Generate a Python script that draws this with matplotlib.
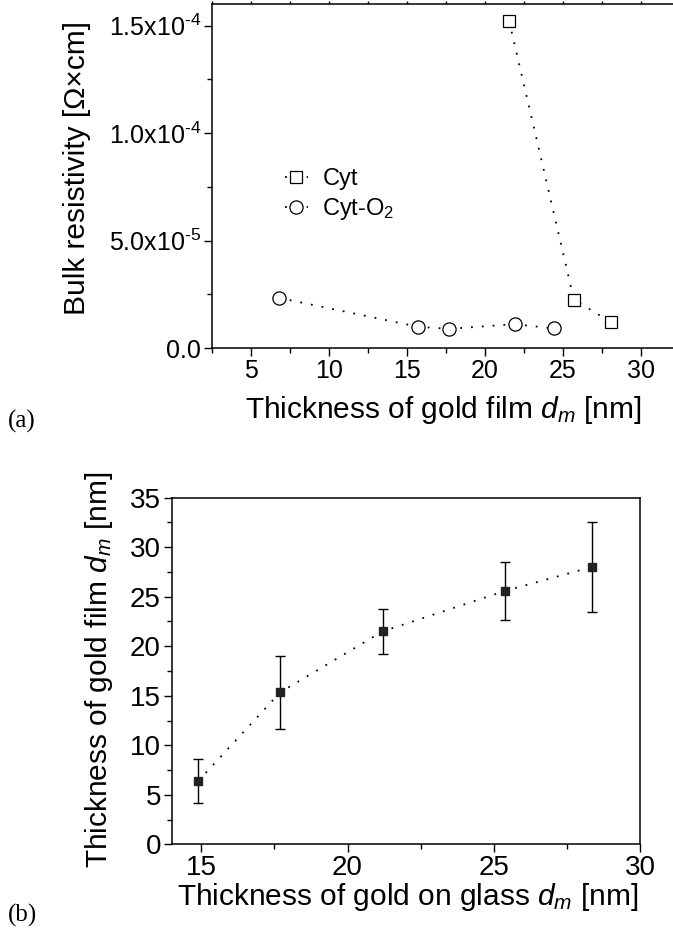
import numpy as np
import matplotlib
matplotlib.use("Agg")
import matplotlib.pyplot as plt
from matplotlib.ticker import MultipleLocator, FuncFormatter

FAM = ['Liberation Sans', 'DejaVu Sans']
plt.rcParams['font.family'] = FAM
plt.rcParams['mathtext.fontset'] = 'custom'
plt.rcParams['mathtext.rm'] = 'Liberation Sans'
plt.rcParams['mathtext.it'] = 'Liberation Sans:italic'

# panel (a): bulk resistivity vs film thickness
cyt_x = [21.55, 25.7, 28.1]
cyt_y = [1.52e-4, 2.25e-5, 1.19e-5]
cyto2_x = [6.8, 15.7, 17.7, 21.9, 24.4]
cyto2_y = [2.33e-5, 0.99e-5, 0.89e-5, 1.11e-5, 0.91e-5]

# panel (b): film thickness vs thickness on glass
glass_x = [14.9, 17.7, 21.2, 25.4, 28.35]
film_y = [6.4, 15.35, 21.5, 25.6, 28.0]
film_err = [2.25, 3.7, 2.25, 2.9, 4.55]

dots = (0, (1, 5))

fig = plt.figure(figsize=(6.73, 9.35), dpi=100)

# ---- (a)
ax1 = fig.add_axes([212/673, 1-348/935, 468/673, 344/935])
ax1.plot(cyt_x, cyt_y, color='k', ls=dots, lw=1.3, marker='s', ms=8.3,
         mfc='white', mec='k', mew=0.9, label='Cyt')
ax1.plot(cyto2_x, cyto2_y, color='k', ls=dots, lw=1.3, marker='o', ms=9.5,
         mfc='white', mec='k', mew=0.9, label='Cyt-O$_2$')
ax1.set_xlim(2.5, 32.5)
ax1.set_ylim(0, 1.6e-4)
ax1.xaxis.set_major_locator(MultipleLocator(5))
ax1.xaxis.set_minor_locator(MultipleLocator(2.5))
ax1.yaxis.set_major_locator(MultipleLocator(5e-5))
ax1.yaxis.set_minor_locator(MultipleLocator(2.5e-5))

def sci(v, pos):
    if abs(v) < 1e-12:
        return '0.0'
    e = int(np.floor(np.log10(abs(v))))
    m = v / 10**e
    return '%.1fx10$^{\u2010%d}$' % (m, -e)

ax1.yaxis.set_major_formatter(FuncFormatter(sci))
ax1.tick_params(axis='both', which='major', direction='out', length=6,
                width=1, labelsize=18, pad=2)
ax1.tick_params(axis='both', which='minor', direction='out', length=3.5, width=1)
ax1.tick_params(axis='x', which='both', top=True, labeltop=False)
for t in ax1.xaxis.get_major_ticks() + ax1.xaxis.get_minor_ticks():
    t.tick2line.set_markersize(2)
leg = ax1.legend(loc='upper left', bbox_to_anchor=(0.135, 0.55), frameon=False,
                 fontsize=17, handlelength=1.0, handletextpad=0.6,
                 labelspacing=0.25, borderaxespad=0)
for sp in ax1.spines.values():
    sp.set_linewidth(1.1)

fig.text(77/673, 1-168/935, 'Bulk resistivity [\u03a9\u00d7cm]', rotation=90,
         ha='center', va='center', fontsize=21.5)
fig.text(443/673, 1-410/935, r'Thickness of gold film $\mathit{d}_{\mathit{m}}$ [nm]',
         ha='center', va='center', fontsize=21.5)
fig.text(8/673, 1-421/935, '(a)', family='Liberation Serif', fontsize=18,
         ha='left', va='center')

# ---- (b)
ax2 = fig.add_axes([172/673, 1-844.3/935, 468/673, 346.6/935])
ax2.errorbar(glass_x, film_y, yerr=film_err, color='k', ls=dots, lw=1.3,
             marker='s', ms=5.5, mfc='#222222', mec='#222222', elinewidth=1,
             ecolor='k', capsize=3.5, capthick=1)
ax2.set_xlim(14, 30)
ax2.set_ylim(0, 35)
ax2.xaxis.set_major_locator(MultipleLocator(5))
ax2.xaxis.set_minor_locator(MultipleLocator(2.5))
ax2.yaxis.set_major_locator(MultipleLocator(5))
ax2.yaxis.set_minor_locator(MultipleLocator(2.5))
ax2.tick_params(axis='both', which='major', direction='out', length=6,
                width=1, labelsize=20, pad=2)
ax2.tick_params(axis='both', which='minor', direction='out', length=3.5, width=1)
for sp in ax2.spines.values():
    sp.set_linewidth(1.1)

fig.text(99/673, 1-670/935, r'Thickness of gold film $\mathit{d}_{\mathit{m}}$ [nm]',
         rotation=90, ha='center', va='center', fontsize=21.5)
fig.text(408/673, 1-897/935, r'Thickness of gold on glass $\mathit{d}_{\mathit{m}}$ [nm]',
         ha='center', va='center', fontsize=21.5)
fig.text(8/673, 1-915/935, '(b)', family='Liberation Serif', fontsize=18,
         ha='left', va='center')

fig.savefig('out.png', dpi=100)
